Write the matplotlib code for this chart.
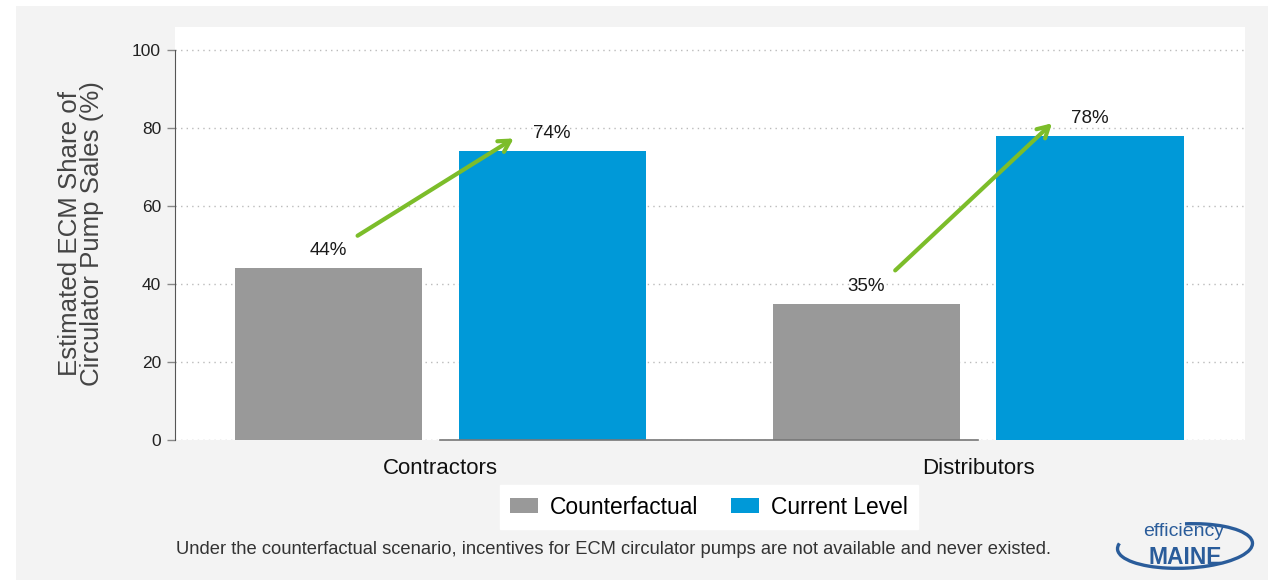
import matplotlib
matplotlib.use("Agg")
import matplotlib.pyplot as plt
import numpy as np
from matplotlib.patches import Rectangle, Arc

plt.rcParams['font.family'] = ['Liberation Sans', 'DejaVu Sans']

categories = ["Contractors", "Distributors"]
counterfactual = [44, 35]
current_level = [74, 78]
series_names = ["Counterfactual", "Current Level"]
yticks = [0, 20, 40, 60, 80, 100]
footnote = "Under the counterfactual scenario, incentives for ECM circulator pumps are not available and never existed."

GRAY = "#999999"
BLUE = "#0099d8"
GREEN = "#7cbd2a"
BG = "#f3f3f3"

W, H = 1268, 580
fig = plt.figure(figsize=(W / 100, H / 100), dpi=100, facecolor="white")
# light gray panel
fig.patches.append(Rectangle((16 / W, 0), 1 - 16 / W, 1 - 6 / H, transform=fig.transFigure,
                             facecolor=BG, edgecolor="none", zorder=-10))

ax_l, ax_r, ax_t, ax_b = 175, 1245, 27, 440
ax = fig.add_axes([ax_l / W, 1 - ax_b / H, (ax_r - ax_l) / W, (ax_b - ax_t) / H])
ax.set_facecolor("white")

x = np.arange(len(categories))
bw = 0.348
off = 0.208
b1 = ax.bar(x - off, counterfactual, bw, color=GRAY, label=series_names[0], zorder=3)
b2 = ax.bar(x + off, current_level, bw, color=BLUE, label=series_names[1], zorder=3)

ax.set_xlim(-0.493, 1.496)
ax.set_ylim(0, 105.9)
ax.set_yticks(yticks)
ax.set_yticklabels([str(t) for t in yticks], fontsize=12.5, color="#222222")
ax.set_xticks(x)
ax.set_xticklabels(categories, fontsize=16, color="#111111")
ax.tick_params(axis="x", length=0, pad=13)
ax.tick_params(axis="y", length=6, color="#888888", width=1, pad=4)
ax.grid(axis="y", linestyle=(0, (1, 3)), color="#bbbbbb", linewidth=1, zorder=0)
for s in ["top", "right", "bottom"]:
    ax.spines[s].set_visible(False)
ax.spines["left"].set_color("#555555")
ax.spines["left"].set_bounds(0, 100)

# baseline between groups
ax.plot([x[0], x[-1]], [0, 0], color="#777777", lw=1.2, zorder=4, clip_on=False)

for rect, v in zip(list(b1) + list(b2), counterfactual + current_level):
    ax.text(rect.get_x() + rect.get_width() / 2, v + 2.3, f"{v}%", ha="center", va="bottom",
            fontsize=13.5, color="#1a1a1a", zorder=5)

for i in range(len(categories)):
    ax.annotate("", xy=(x[i] + off - 0.067, current_level[i] + 3.7),
                xytext=(x[i] - off + 0.05, counterfactual[i] + 8),
                arrowprops=dict(arrowstyle="->,head_length=0.8,head_width=0.45", color=GREEN, lw=3),
                zorder=6)

ax.set_ylabel("Estimated ECM Share of\nCirculator Pump Sales (%)", fontsize=18.6, color="#444444",
              linespacing=0.9, labelpad=20)

leg = fig.legend(handles=[b1, b2], labels=series_names, loc="center",
                 bbox_to_anchor=(709 / W, 1 - 507 / H), ncol=2, frameon=True, fontsize=16.4,
                 fancybox=False, handlelength=1.23, handleheight=0.62, columnspacing=1.45,
                 borderpad=0.45, handletextpad=0.53)
leg.get_frame().set_edgecolor("white")
leg.get_frame().set_facecolor("white")
leg.get_frame().set_alpha(1)

fig.text(614 / W, 1 - 549 / H, footnote, ha="center", va="center", fontsize=13.2, color="#333333")

# logo
LOGO = "#2a5c9a"
fig.text(1184 / W, 1 - 532 / H, "efficiency", ha="center", va="center", fontsize=14, color=LOGO)
fig.text(1185 / W, 1 - 558 / H, "MAINE", ha="center", va="center", fontsize=16.5,
         fontweight="heavy", color=LOGO)
fig.patches.append(Arc((1185 / W, 1 - 546 / H), 136 / W, 44 / H, angle=10, theta1=165, theta2=440,
                       transform=fig.transFigure, color=LOGO, lw=2.4))

fig.savefig("out.png", dpi=100, facecolor=fig.get_facecolor())
